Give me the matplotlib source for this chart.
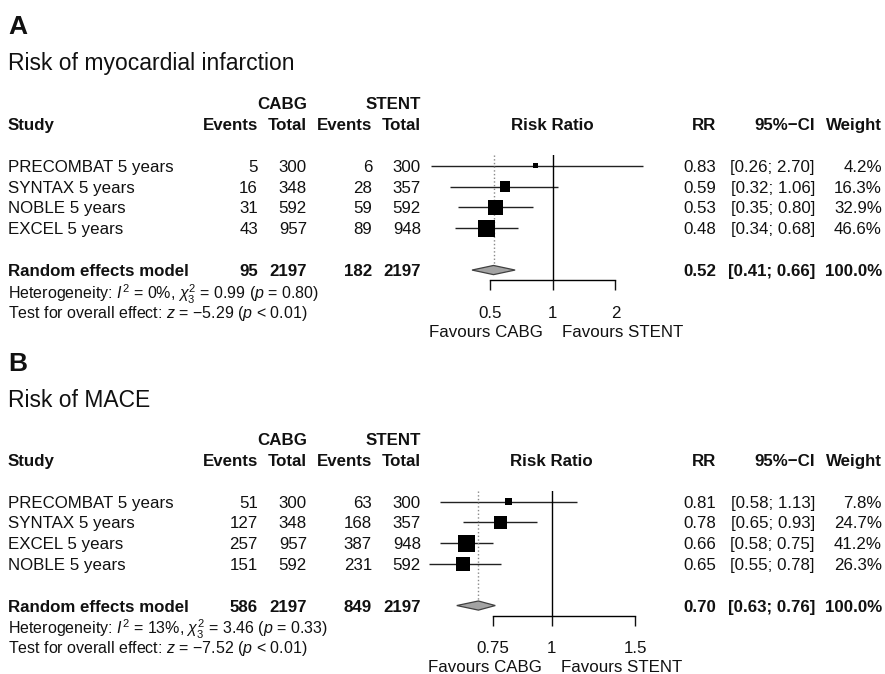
import matplotlib

matplotlib.use("Agg")
import matplotlib.pyplot as plt
from matplotlib.ticker import NullLocator
from matplotlib.transforms import blended_transform_factory

plt.rcParams["font.family"] = ["Liberation Sans", "DejaVu Sans"]
plt.rcParams["mathtext.fontset"] = "custom"
plt.rcParams["mathtext.rm"] = "Liberation Sans"
plt.rcParams["mathtext.it"] = "Liberation Sans:italic"
plt.rcParams["mathtext.bf"] = "Liberation Sans:bold"

# --- panel A: myocardial infarction ---
studies_a = ["PRECOMBAT 5 years", "SYNTAX 5 years", "NOBLE 5 years", "EXCEL 5 years"]
cabg_ev_a = [5, 16, 31, 43]
cabg_tot_a = [300, 348, 592, 957]
stent_ev_a = [6, 28, 59, 89]
stent_tot_a = [300, 357, 592, 948]
rr_a = [0.83, 0.59, 0.53, 0.48]
lo_a = [0.26, 0.32, 0.35, 0.34]
hi_a = [2.70, 1.06, 0.80, 0.68]
weight_a = [4.2, 16.3, 32.9, 46.6]
pooled_a = [0.52, 0.41, 0.66]
totals_a = [95, 2197, 182, 2197]
het_a = ["0%", "0.99", "0.80"]
z_a = ["\u22125.29", "< 0.01"]
ticks_a = [0.5, 1, 2]
ticklabels_a = ["0.5", "1", "2"]

# --- panel B: MACE ---
studies_b = ["PRECOMBAT 5 years", "SYNTAX 5 years", "EXCEL 5 years", "NOBLE 5 years"]
cabg_ev_b = [51, 127, 257, 151]
cabg_tot_b = [300, 348, 957, 592]
stent_ev_b = [63, 168, 387, 231]
stent_tot_b = [300, 357, 948, 592]
rr_b = [0.81, 0.78, 0.66, 0.65]
lo_b = [0.58, 0.65, 0.58, 0.55]
hi_b = [1.13, 0.93, 0.75, 0.78]
weight_b = [7.8, 24.7, 41.2, 26.3]
pooled_b = [0.70, 0.63, 0.76]
totals_b = [586, 2197, 849, 2197]
het_b = ["13%", "3.46", "0.33"]
z_b = ["\u22127.52", "< 0.01"]
ticks_b = [0.75, 1, 1.5]
ticklabels_b = ["0.75", "1", "1.5"]

W, H = 885, 674
TEXT = "#111111"
FS = 12.2
FS_HET = 11.5
SQ_MAX = 155  # marker area (pt^2) of the heaviest study


def draw_panel(fig, over, letter, title, row0, step, px_one, px_per_ln,
               studies, c_ev, c_tot, s_ev, s_tot, rr, lo, hi, weight,
               pooled, totals, het, ztest, ticks, ticklabels):
    import math

    left_px, right_px = 420, 665
    top_px = row0 - 0.5 * step
    bot_px = row0 + 5.5 * step
    fax = fig.add_axes([left_px / W, 1 - bot_px / H,
                        (right_px - left_px) / W, (bot_px - top_px) / H])
    fax.set_xscale("log")
    fax.set_xlim(math.exp((left_px - px_one) / px_per_ln),
                 math.exp((right_px - px_one) / px_per_ln))
    fax.set_ylim(5.5, -0.5)
    fax.patch.set_alpha(0)

    rows = list(range(len(studies)))
    srow = 5
    dh = 0.22
    wmax = max(weight)

    fax.hlines(rows, lo, hi, color="#222222", lw=1.0)
    fax.scatter(rr, rows, marker="s", s=[SQ_MAX * w / wmax for w in weight],
                color="black", linewidths=0, zorder=3)
    est, plo, phi = pooled
    fax.fill([plo, est, phi, est], [srow, srow - dh, srow, srow + dh],
             facecolor="#a3a3a3", edgecolor="#404040", lw=0.9, zorder=3)
    fax.axvline(1, color="black", lw=1.0)
    fax.vlines(est, -0.5, srow - dh, colors="#888888", linestyles=":", lw=1.0)

    for side in ("top", "left", "right"):
        fax.spines[side].set_visible(False)
    fax.spines["bottom"].set_bounds(ticks[0], ticks[-1])
    fax.spines["bottom"].set_linewidth(1.0)
    fax.set_xticks(ticks)
    fax.set_xticklabels(ticklabels)
    fax.xaxis.set_minor_locator(NullLocator())
    fax.tick_params(axis="x", length=7.2, width=1.0, pad=11,
                    labelsize=FS, colors=TEXT)
    fax.set_yticks([])

    fax.annotate("Favours CABG", xy=(1, 7.9), xycoords="data", xytext=(-7, 0),
                 textcoords="offset points", ha="right", va="center_baseline",
                 fontsize=FS, color=TEXT, annotation_clip=False)
    fax.annotate("Favours STENT", xy=(1, 7.9), xycoords="data", xytext=(6.5, 0),
                 textcoords="offset points", ha="left", va="center_baseline",
                 fontsize=FS, color=TEXT, annotation_clip=False)

    tr = blended_transform_factory(over.transData, fax.transData)
    tr_f = fax.transData

    def t(x, y, s, ha="left", weight="normal", size=FS, trans=tr):
        over.text(x, y, s, ha=ha, va="center_baseline", fontsize=size,
                  fontweight=weight, color=TEXT, transform=trans)

    t(8, -6.75, letter, weight="bold", size=19)
    t(8, -5.0, title, size=16.5)

    # column headers
    t(307, -3, "CABG", ha="right", weight="bold")
    t(421, -3, "STENT", ha="right", weight="bold")
    t(8, -2, "Study", weight="bold")
    for x, s in [(258, "Events"), (307, "Total"), (372, "Events"), (421, "Total"),
                 (716, "RR"), (815, "95%\u2212CI"), (882, "Weight")]:
        t(x, -2, s, ha="right", weight="bold")
    over.text(1, -2, "Risk Ratio", ha="center", va="center_baseline",
              fontsize=FS, fontweight="bold", color=TEXT, transform=tr_f)

    # study rows
    for i, name in enumerate(studies):
        t(8, i, name)
        t(258, i, str(c_ev[i]), ha="right")
        t(307, i, str(c_tot[i]), ha="right")
        t(372, i, str(s_ev[i]), ha="right")
        t(421, i, str(s_tot[i]), ha="right")
        t(716, i, f"{rr[i]:.2f}", ha="right")
        t(815, i, f"[{lo[i]:.2f}; {hi[i]:.2f}]", ha="right")
        t(882, i, f"{weight[i]:.1f}%", ha="right")

    # pooled row
    t(8, srow, "Random effects model", weight="bold")
    for x, v in zip([258, 307, 372, 421], totals):
        t(x, srow, str(v), ha="right", weight="bold")
    t(716, srow, f"{est:.2f}", ha="right", weight="bold")
    t(815, srow, f"[{plo:.2f}; {phi:.2f}]", ha="right", weight="bold")
    t(882, srow, "100.0%", ha="right", weight="bold")

    i2, chi2, p = het
    t(8, 6.0, f"Heterogeneity: $I^2$ = {i2}, $\\chi^2_3$ = {chi2} ($p$ = {p})",
      size=FS_HET)
    zval, pz = ztest
    t(8, 6.95, f"Test for overall effect: $z$ = {zval} ($p$ {pz})", size=FS_HET)
    return fax


fig = plt.figure(figsize=(W / 100, H / 100), dpi=100)
fig.patch.set_facecolor("white")
over = fig.add_axes([0, 0, 1, 1])
over.set_xlim(0, W)
over.set_ylim(H, 0)
over.axis("off")

draw_panel(fig, over, "A", "Risk of myocardial infarction", 165.7, 20.87,
           552.7, 90.5, studies_a, cabg_ev_a, cabg_tot_a, stent_ev_a,
           stent_tot_a, rr_a, lo_a, hi_a, weight_a, pooled_a, totals_a,
           het_a, z_a, ticks_a, ticklabels_a)
draw_panel(fig, over, "B", "Risk of MACE", 501.7, 20.77,
           551.7, 205.5, studies_b, cabg_ev_b, cabg_tot_b, stent_ev_b,
           stent_tot_b, rr_b, lo_b, hi_b, weight_b, pooled_b, totals_b,
           het_b, z_b, ticks_b, ticklabels_b)

fig.savefig("out.png", dpi=100, facecolor="white")
